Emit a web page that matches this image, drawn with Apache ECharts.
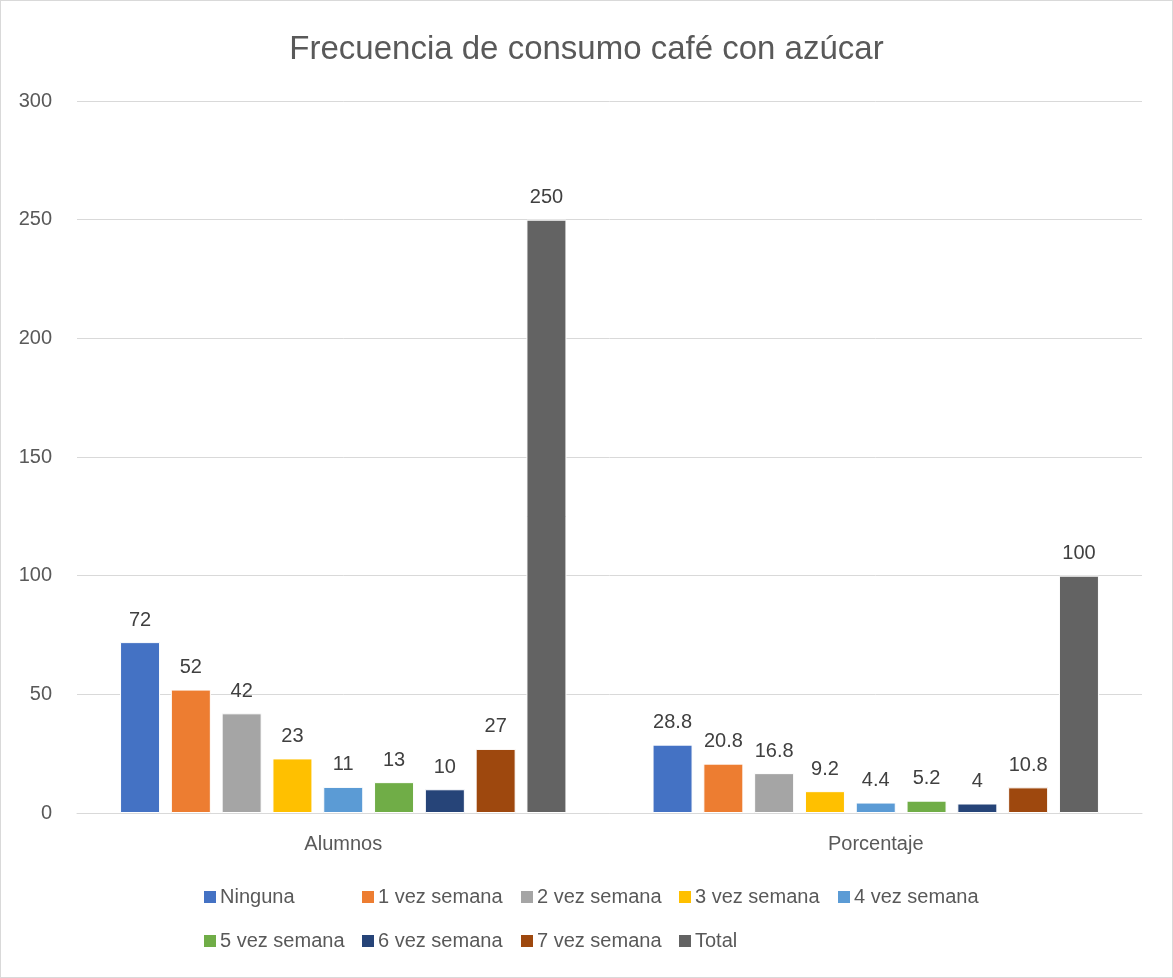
<!DOCTYPE html>
<html><head><meta charset="utf-8">
<script src="https://cdn.jsdelivr.net/npm/echarts@6/dist/echarts.min.js"></script>
<style>html,body{margin:0;padding:0;background:#fff}#c{width:1171px;height:976px;border:1px solid #d9d9d9}</style>
</head><body><div id="c"></div>
<script>
const categories = ['Alumnos', 'Porcentaje'];
const seriesNames = ['Ninguna','1 vez semana','2 vez semana','3 vez semana','4 vez semana','5 vez semana','6 vez semana','7 vez semana','Total'];
const ninguna = [72, 28.8];
const vez1 = [52, 20.8];
const vez2 = [42, 16.8];
const vez3 = [23, 9.2];
const vez4 = [11, 4.4];
const vez5 = [13, 5.2];
const vez6 = [10, 4];
const vez7 = [27, 10.8];
const total = [250, 100];
const values = [ninguna, vez1, vez2, vez3, vez4, vez5, vez6, vez7, total];
const colors = ['#4472c4','#ed7d31','#a5a5a5','#ffc000','#5b9bd5','#70ad47','#264478','#9e480e','#636363'];
const FONT = 'Liberation Sans';
const legendPos = [[201,886],[359,886],[518,886],[676,886],[835,886],[201,930],[359,930],[518,930],[676,930]];
const chart = echarts.init(document.getElementById('c'));
chart.setOption({
  animation: false,
  textStyle: {fontFamily: FONT},
  title: {text: 'Frecuencia de consumo café con azúcar', left: 'center', top: 27,
    textStyle: {fontFamily: FONT, fontSize: 33, fontWeight: 'normal', color: '#595959'}},
  legend: seriesNames.map((n, i) => ({
    data: [n], left: legendPos[i][0], top: legendPos[i][1], padding: 0, itemWidth: 14, itemHeight: 14, itemGap: 0,
    icon: 'rect', textStyle: {fontFamily: FONT, fontSize: 20, color: '#595959', padding: [0,0,0,-2]}
  })),
  grid: {left: 76, right: 30, top: 100, bottom: 164, containLabel: false},
  xAxis: {type: 'category', data: categories,
    axisLine: {lineStyle: {color: '#d9d9d9', width: 1}}, axisTick: {show: false},
    axisLabel: {fontSize: 20, color: '#595959', margin: 21, fontFamily: FONT}},
  yAxis: {type: 'value', min: 0, max: 300, interval: 50,
    axisLine: {show: false}, axisTick: {show: false},
    splitLine: {lineStyle: {color: '#d9d9d9', width: 1}},
    axisLabel: {fontSize: 20, color: '#595959', margin: 25, fontFamily: FONT}},
  series: seriesNames.map((n, i) => ({
    name: n, type: 'bar', data: values[i], barWidth: 40, barGap: '27%',
    itemStyle: {color: colors[i], borderColor: '#ffffff', borderWidth: 1},
    label: {show: true, position: 'top', distance: 12, fontSize: 20, color: '#404040', fontFamily: FONT}
  }))
});
</script></body></html>
